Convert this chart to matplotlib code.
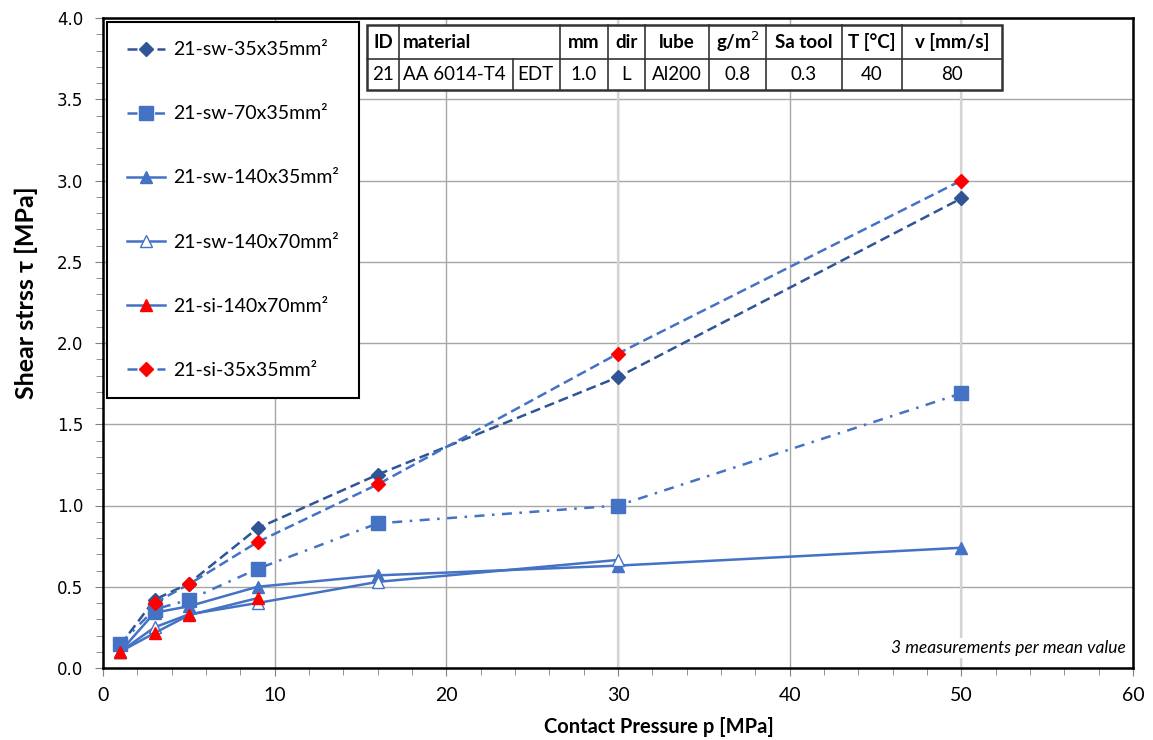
import matplotlib
matplotlib.use("Agg")
import matplotlib.pyplot as plt
from matplotlib.ticker import MultipleLocator
from matplotlib.lines import Line2D

# data
p_full = [1, 3, 5, 9, 16, 30, 50]
sw_35x35 = [0.14, 0.42, 0.52, 0.86, 1.19, 1.79, 2.89]
sw_70x35 = [0.15, 0.36, 0.42, 0.61, 0.89, 1.00, 1.69]
sw_140x35 = [0.10, 0.34, 0.38, 0.50, 0.57, 0.63, 0.74]
p_140x70 = [1, 3, 5, 9, 16, 30]
sw_140x70 = [0.10, 0.25, 0.33, 0.40, 0.53, 0.665]
p_si_140x70 = [1, 3, 5, 9]
si_140x70 = [0.10, 0.215, 0.325, 0.43]
p_si_35x35 = [3, 5, 9, 16, 30, 50]
si_35x35 = [0.40, 0.515, 0.775, 1.13, 1.935, 3.00]

table_head = ["ID", "material", "mm", "dir", "lube", "g/m$^2$", "Sa tool", "T [°C]", "v [mm/s]"]
table_row = ["21", "AA 6014-T4", "EDT", "1.0", "L", "Al200", "0.8", "0.3", "40", "80"]

calibri = ["Lato", "DejaVu Sans"]
dark = "#2F5597"
blue = "#4472C4"

W, H = 1153, 740
fig = plt.figure(figsize=(W / 100, H / 100), dpi=100)
ax = fig.add_axes([103 / W, 1 - 668 / H, 1030 / W, 650 / H])

lw = 1.8
ax.plot(p_full, sw_35x35, color=dark, lw=lw, dashes=(4, 2), marker="D", ms=7,
        mfc=dark, mec=dark, label="21-sw-35x35mm²", zorder=5)
ax.plot(p_full, sw_70x35, color=blue, lw=lw, dashes=(4, 3, 1, 3), marker="s", ms=10,
        mfc=blue, mec=blue, label="21-sw-70x35mm²", zorder=5)
ax.plot(p_full, sw_140x35, color=blue, lw=lw, marker="^", ms=9,
        mfc=blue, mec=blue, label="21-sw-140x35mm²", zorder=5)
ax.plot(p_140x70, sw_140x70, color=blue, lw=lw, marker="^", ms=9,
        mfc="white", mec=blue, mew=1.0, label="21-sw-140x70mm²", zorder=5)
ax.plot(p_si_140x70, si_140x70, color=blue, lw=lw, marker="^", ms=9,
        mfc="red", mec="red", label="21-si-140x70mm²", zorder=6)
ax.plot(p_si_35x35, si_35x35, color=blue, lw=lw, dashes=(4, 2), marker="D", ms=7,
        mfc="red", mec="red", label="21-si-35x35mm²", zorder=6)

ax.set_xlim(0, 60)
ax.set_ylim(0, 4.0)
ax.xaxis.set_major_locator(MultipleLocator(10))
ax.xaxis.set_minor_locator(MultipleLocator(2))
ax.yaxis.set_major_locator(MultipleLocator(0.5))
ax.yaxis.set_minor_locator(MultipleLocator(0.1))
ax.yaxis.set_major_formatter(matplotlib.ticker.FormatStrFormatter("%.1f"))
ax.grid(True, which="major", color="#A6A6A6", lw=1.0, zorder=0)
for xv in (30, 50):
    ax.axvline(xv, color="#D4D4D4", lw=1.6, zorder=1)
ax.set_axisbelow(True)

ax.tick_params(which="both", direction="out", color="#808080")
ax.tick_params(which="major", length=6)
ax.tick_params(which="minor", length=5)
ax.tick_params(axis="y", labelsize=12, pad=8)
ax.tick_params(axis="x", labelsize=14, pad=8)
for t in ax.get_xticklabels():
    t.set_family(calibri)
for s in ax.spines.values():
    s.set_color("black")
    s.set_linewidth(1.8)

ax.set_xlabel("Contact Pressure p [MPa]", family=calibri, fontsize=14.5,
              fontweight="bold", labelpad=8)
ax.xaxis.set_label_coords(0.54, -0.075)
ax.set_ylabel("Shear strss τ [MPa]", family=calibri, fontsize=18,
              fontweight="bold")
ax.yaxis.set_label_coords(-0.063, 0.578)

leg = ax.legend(loc="upper left", bbox_to_anchor=(0.004, 0.994), borderaxespad=0,
                prop={"family": calibri, "size": 14}, labelspacing=2.42,
                handlelength=2.0, handletextpad=0.4, borderpad=1.0,
                fancybox=False, framealpha=1, edgecolor="black")
leg.get_frame().set_linewidth(1.5)
leg.set_zorder(10)

ax.text(0.993, 0.018, "3 measurements per mean value", transform=ax.transAxes,
        ha="right", va="bottom", family=calibri, style="italic", fontsize=12.5,
        bbox=dict(facecolor="white", edgecolor="none", pad=1.5), zorder=7)

# parameter table drawn in figure pixels
cols = [367, 399, 513, 560, 608, 645, 709, 766, 842, 902, 1002]
rows = [25, 59, 90]

def fx(x):
    return x / W

def fy(y):
    return 1 - y / H

fig.patches.append(plt.Rectangle((fx(cols[0]), fy(rows[2])), fx(cols[-1]) - fx(cols[0]),
                                 fy(rows[0]) - fy(rows[2]), transform=fig.transFigure,
                                 facecolor="white", edgecolor="#333333", lw=1.8, zorder=20))
fig.add_artist(Line2D([fx(cols[0]), fx(cols[-1])], [fy(rows[1])] * 2, color="#333333", lw=1.2, zorder=21))
for i, c in enumerate(cols[1:-1], start=1):
    y0 = rows[1] if i == 2 else rows[0]
    fig.add_artist(Line2D([fx(c)] * 2, [fy(y0), fy(rows[2])], color="#333333", lw=1.2, zorder=21))

head_spans = [(0, 1), (1, 3), (3, 4), (4, 5), (5, 6), (6, 7), (7, 8), (8, 9), (9, 10)]
for txt, (a, b) in zip(table_head, head_spans):
    ha = "left" if txt == "material" else "center"
    xx = cols[a] + 4 if ha == "left" else (cols[a] + cols[b]) / 2
    fig.text(fx(xx), fy((rows[0] + rows[1]) / 2), txt, ha=ha, va="center",
             family=calibri, fontweight="bold", fontsize=13.5, zorder=22)
for i, txt in enumerate(table_row):
    left = i in (1, 2)
    xx = cols[i] + 4 if left else (cols[i] + cols[i + 1]) / 2
    fig.text(fx(xx), fy((rows[1] + rows[2]) / 2), txt, ha="left" if left else "center",
             va="center", family=calibri, fontsize=13.5, zorder=22)

fig.savefig("out.png", dpi=100)
